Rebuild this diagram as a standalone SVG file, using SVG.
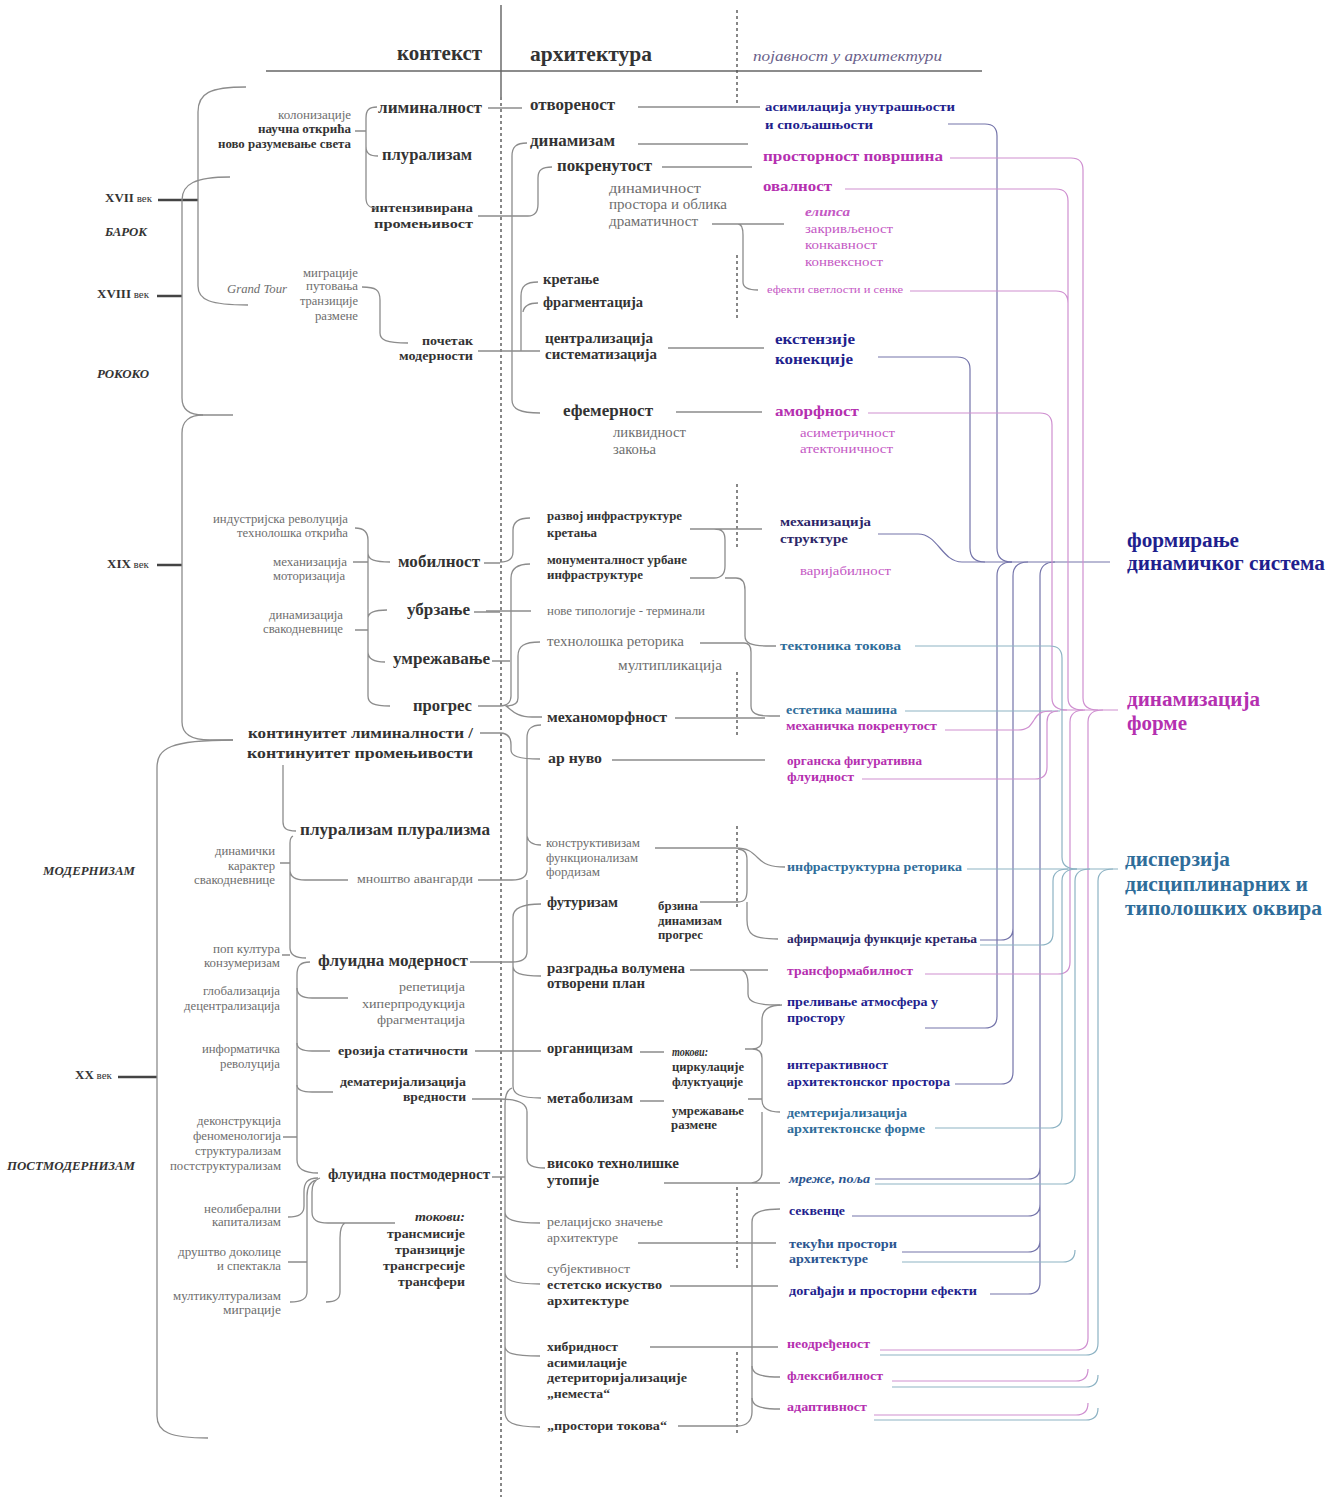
<svg xmlns="http://www.w3.org/2000/svg" width="1341" height="1497" viewBox="0 0 1341 1497">
<style>
.t{font-family:"Liberation Serif","DejaVu Serif",serif}
.b{font-weight:bold}
.i{font-style:italic}
.dk{fill:#333}
.gr{fill:#6e6e6e}
.nv{fill:#1f1f8e}
.mg{fill:#b530b0}
.lm{fill:#c458c4}
.tl{fill:#2f6d9a}
.tn{fill:#2b5590}
.pn{fill:#2c2668}
.br{fill:none;stroke:#8c8c8c;stroke-width:1.3}
.rn{fill:none;stroke:#7474aa;stroke-width:1.2}
.rm{fill:none;stroke:#cf8fd0;stroke-width:1.2}
.rt{fill:none;stroke:#8db3c4;stroke-width:1.2}
.tick{stroke:#444;stroke-width:2.6}
.dash{fill:none;stroke:#555;stroke-width:1.4;stroke-dasharray:3 3}
</style>
<rect width="1341" height="1497" fill="#fff"/>

<!-- column frame -->
<g id="frame">
<path d="M501 5 V97" stroke="#555" stroke-width="1.3"/>
<path class="dash" d="M501 97 V1497"/>
<path d="M266 71 H982" stroke="#666" stroke-width="1.3"/>
<path class="dash" d="M737 10 V105 M737 255 V320 M737 484 V548 M737 672 V738 M737 826 V910 M737 1187 V1268 M737 1352 V1435"/>
<text class="t b dk" x="397" y="60" font-size="21" textLength="85" lengthAdjust="spacingAndGlyphs">контекст</text>
<text class="t b dk" x="530" y="61" font-size="21" textLength="122" lengthAdjust="spacingAndGlyphs">архитектура</text>
<text class="t i" fill="#6a5f8a" x="753" y="61" font-size="15" textLength="189" lengthAdjust="spacingAndGlyphs">појавност у архитектури</text>
</g>

<!-- time axis -->
<g id="periods">
<path class="tick" d="M158 200 H198 M157 296 H182 M157 565 H182 M118 1077 H157"/>
<text class="t dk" x="105" y="202"><tspan class="b" font-size="13">XVII</tspan><tspan font-size="11"> век</tspan></text>
<text class="t b i dk" x="105" y="236" font-size="12" textLength="42" lengthAdjust="spacingAndGlyphs">БАРОК</text>
<text class="t dk" x="97" y="298"><tspan class="b" font-size="13">XVIII</tspan><tspan font-size="11"> век</tspan></text>
<text class="t b i dk" x="97" y="378" font-size="12" textLength="52" lengthAdjust="spacingAndGlyphs">РОКОКО</text>
<text class="t dk" x="107" y="568"><tspan class="b" font-size="13">XIX</tspan><tspan font-size="11"> век</tspan></text>
<text class="t b i dk" x="43" y="875" font-size="12" textLength="92" lengthAdjust="spacingAndGlyphs">МОДЕРНИЗАМ</text>
<text class="t dk" x="75" y="1079"><tspan class="b" font-size="13">XX</tspan><tspan font-size="11"> век</tspan></text>
<text class="t b i dk" x="7" y="1170" font-size="12" textLength="128" lengthAdjust="spacingAndGlyphs">ПОСТМОДЕРНИЗАМ</text>
</g>

<!-- context column -->
<g id="ctx-17">
<text class="t gr" x="278" y="119" font-size="12" textLength="73" lengthAdjust="spacingAndGlyphs">колонизације</text>
<text class="t b dk" x="258" y="133" font-size="12" textLength="93" lengthAdjust="spacingAndGlyphs">научна открића</text>
<text class="t b dk" x="218" y="148" font-size="12" textLength="133" lengthAdjust="spacingAndGlyphs">ново разумевање света</text>
<text class="t b dk" x="378" y="113" font-size="17" textLength="104" lengthAdjust="spacingAndGlyphs">лиминалност</text>
<text class="t b dk" x="382" y="160" font-size="17" textLength="90" lengthAdjust="spacingAndGlyphs">плурализам</text>
<text class="t b dk" x="371" y="212" font-size="13.5" textLength="102" lengthAdjust="spacingAndGlyphs">интензивирана</text>
<text class="t b dk" x="374" y="228" font-size="13.5" textLength="99" lengthAdjust="spacingAndGlyphs">промењивост</text>
</g>
<g id="ctx-18">
<text class="t i gr" x="227" y="293" font-size="12" textLength="60" lengthAdjust="spacingAndGlyphs">Grand Tour</text>
<text class="t gr" x="303" y="277" font-size="12" textLength="55" lengthAdjust="spacingAndGlyphs">миграције</text>
<text class="t gr" x="306" y="290" font-size="12" textLength="52" lengthAdjust="spacingAndGlyphs">путовања</text>
<text class="t gr" x="300" y="305" font-size="12" textLength="58" lengthAdjust="spacingAndGlyphs">транзиције</text>
<text class="t gr" x="315" y="320" font-size="12" textLength="43" lengthAdjust="spacingAndGlyphs">размене</text>
<text class="t b dk" x="422" y="345" font-size="13" textLength="51" lengthAdjust="spacingAndGlyphs">почетак</text>
<text class="t b dk" x="399" y="360" font-size="13" textLength="74" lengthAdjust="spacingAndGlyphs">модерности</text>
</g>
<g id="ctx-19">
<text class="t gr" x="213" y="523" font-size="12" textLength="135" lengthAdjust="spacingAndGlyphs">индустријска револуција</text>
<text class="t gr" x="237" y="537" font-size="12" textLength="111" lengthAdjust="spacingAndGlyphs">технолошка открића</text>
<text class="t gr" x="273" y="566" font-size="12" textLength="74" lengthAdjust="spacingAndGlyphs">механизација</text>
<text class="t gr" x="273" y="580" font-size="12" textLength="72" lengthAdjust="spacingAndGlyphs">моторизација</text>
<text class="t gr" x="269" y="619" font-size="12" textLength="74" lengthAdjust="spacingAndGlyphs">динамизација</text>
<text class="t gr" x="263" y="633" font-size="12" textLength="80" lengthAdjust="spacingAndGlyphs">свакодневнице</text>
<text class="t b dk" x="398" y="567" font-size="17" textLength="82" lengthAdjust="spacingAndGlyphs">мобилност</text>
<text class="t b dk" x="407" y="615" font-size="17" textLength="63" lengthAdjust="spacingAndGlyphs">убрзање</text>
<text class="t b dk" x="393" y="664" font-size="17" textLength="97" lengthAdjust="spacingAndGlyphs">умрежавање</text>
<text class="t b dk" x="413" y="711" font-size="17" textLength="59" lengthAdjust="spacingAndGlyphs">прогрес</text>
</g>
<g id="ctx-20">
<text class="t b dk" x="248" y="738" font-size="15.5" textLength="225" lengthAdjust="spacingAndGlyphs">континуитет лиминалности /</text>
<text class="t b dk" x="247" y="758" font-size="15.5" textLength="226" lengthAdjust="spacingAndGlyphs">континуитет промењивости</text>
<text class="t b dk" x="300" y="835" font-size="17" textLength="190" lengthAdjust="spacingAndGlyphs">плурализам плурализма</text>
<text class="t gr" x="215" y="855" font-size="11.5" textLength="60" lengthAdjust="spacingAndGlyphs">динамички</text>
<text class="t gr" x="228" y="870" font-size="11.5" textLength="47" lengthAdjust="spacingAndGlyphs">карактер</text>
<text class="t gr" x="194" y="884" font-size="11.5" textLength="81" lengthAdjust="spacingAndGlyphs">свакодневнице</text>
<text class="t gr" x="357" y="883" font-size="13" textLength="116" lengthAdjust="spacingAndGlyphs">мноштво авангарди</text>
<text class="t gr" x="213" y="953" font-size="12" textLength="67" lengthAdjust="spacingAndGlyphs">поп култура</text>
<text class="t gr" x="204" y="967" font-size="12" textLength="76" lengthAdjust="spacingAndGlyphs">конзумеризам</text>
<text class="t b dk" x="318" y="966" font-size="17" textLength="150" lengthAdjust="spacingAndGlyphs">флуидна модерност</text>
<text class="t gr" x="203" y="995" font-size="12" textLength="77" lengthAdjust="spacingAndGlyphs">глобализација</text>
<text class="t gr" x="184" y="1010" font-size="12" textLength="96" lengthAdjust="spacingAndGlyphs">децентрализација</text>
<text class="t gr" x="399" y="991" font-size="13" textLength="66" lengthAdjust="spacingAndGlyphs">репетиција</text>
<text class="t gr" x="362" y="1008" font-size="13" textLength="103" lengthAdjust="spacingAndGlyphs">хиперпродукција</text>
<text class="t gr" x="377" y="1024" font-size="13" textLength="88" lengthAdjust="spacingAndGlyphs">фрагментација</text>
<text class="t gr" x="202" y="1053" font-size="12" textLength="78" lengthAdjust="spacingAndGlyphs">информатичка</text>
<text class="t gr" x="220" y="1068" font-size="12" textLength="60" lengthAdjust="spacingAndGlyphs">револуција</text>
<text class="t b dk" x="338" y="1055" font-size="13" textLength="130" lengthAdjust="spacingAndGlyphs">ерозија статичности</text>
<text class="t b dk" x="340" y="1086" font-size="13" textLength="126" lengthAdjust="spacingAndGlyphs">дематеријализација</text>
<text class="t b dk" x="403" y="1101" font-size="13" textLength="63" lengthAdjust="spacingAndGlyphs">вредности</text>
<text class="t gr" x="197" y="1125" font-size="12" textLength="84" lengthAdjust="spacingAndGlyphs">деконструкција</text>
<text class="t gr" x="193" y="1140" font-size="12" textLength="88" lengthAdjust="spacingAndGlyphs">феноменологија</text>
<text class="t gr" x="195" y="1155" font-size="12" textLength="86" lengthAdjust="spacingAndGlyphs">структурализам</text>
<text class="t gr" x="170" y="1170" font-size="12" textLength="111" lengthAdjust="spacingAndGlyphs">постструктурализам</text>
<text class="t b dk" x="328" y="1179" font-size="15" textLength="162" lengthAdjust="spacingAndGlyphs">флуидна постмодерност</text>
<text class="t gr" x="204" y="1213" font-size="12" textLength="77" lengthAdjust="spacingAndGlyphs">неолиберални</text>
<text class="t gr" x="212" y="1226" font-size="12" textLength="69" lengthAdjust="spacingAndGlyphs">капитализам</text>
<text class="t gr" x="178" y="1256" font-size="12" textLength="103" lengthAdjust="spacingAndGlyphs">друштво доколице</text>
<text class="t gr" x="217" y="1270" font-size="12" textLength="64" lengthAdjust="spacingAndGlyphs">и спектакла</text>
<text class="t gr" x="173" y="1300" font-size="12" textLength="108" lengthAdjust="spacingAndGlyphs">мултикултурализам</text>
<text class="t gr" x="223" y="1314" font-size="12" textLength="58" lengthAdjust="spacingAndGlyphs">миграције</text>
<text class="t b i dk" x="415" y="1221" font-size="12.5" textLength="50" lengthAdjust="spacingAndGlyphs">токови:</text>
<text class="t b dk" x="387" y="1238" font-size="13" textLength="78" lengthAdjust="spacingAndGlyphs">трансмисије</text>
<text class="t b dk" x="395" y="1254" font-size="13" textLength="70" lengthAdjust="spacingAndGlyphs">транзиције</text>
<text class="t b dk" x="383" y="1270" font-size="13" textLength="82" lengthAdjust="spacingAndGlyphs">трансгресије</text>
<text class="t b dk" x="398" y="1286" font-size="13" textLength="67" lengthAdjust="spacingAndGlyphs">трансфери</text>
</g>

<!-- architecture column -->
<g id="arch-17">
<text class="t b dk" x="530" y="110" font-size="16" textLength="85" lengthAdjust="spacingAndGlyphs">отвореност</text>
<text class="t b dk" x="530" y="146" font-size="16" textLength="85" lengthAdjust="spacingAndGlyphs">динамизам</text>
<text class="t b dk" x="557" y="171" font-size="16" textLength="95" lengthAdjust="spacingAndGlyphs">покренутост</text>
<text class="t gr" x="609" y="193" font-size="14" textLength="92" lengthAdjust="spacingAndGlyphs">динамичност</text>
<text class="t gr" x="609" y="209" font-size="14" textLength="118" lengthAdjust="spacingAndGlyphs">простора и облика</text>
<text class="t gr" x="609" y="226" font-size="14" textLength="89" lengthAdjust="spacingAndGlyphs">драматичност</text>
<text class="t b dk" x="543" y="284" font-size="14.5" textLength="56" lengthAdjust="spacingAndGlyphs">кретање</text>
<text class="t b dk" x="543" y="307" font-size="14.5" textLength="100" lengthAdjust="spacingAndGlyphs">фрагментација</text>
<text class="t b dk" x="545" y="343" font-size="14" textLength="108" lengthAdjust="spacingAndGlyphs">централизација</text>
<text class="t b dk" x="545" y="359" font-size="14" textLength="112" lengthAdjust="spacingAndGlyphs">систематизација</text>
<text class="t b dk" x="563" y="416" font-size="16" textLength="90" lengthAdjust="spacingAndGlyphs">ефемерност</text>
<text class="t gr" x="613" y="437" font-size="14" textLength="73" lengthAdjust="spacingAndGlyphs">ликвидност</text>
<text class="t gr" x="613" y="454" font-size="14" textLength="43" lengthAdjust="spacingAndGlyphs">закоња</text>
</g>
<g id="arch-19">
<text class="t b dk" x="547" y="520" font-size="12" textLength="135" lengthAdjust="spacingAndGlyphs">развој инфраструктуре</text>
<text class="t b dk" x="547" y="537" font-size="12" textLength="50" lengthAdjust="spacingAndGlyphs">кретања</text>
<text class="t b dk" x="547" y="564" font-size="12" textLength="140" lengthAdjust="spacingAndGlyphs">монументалност урбане</text>
<text class="t b dk" x="547" y="579" font-size="12" textLength="96" lengthAdjust="spacingAndGlyphs">инфраструктуре</text>
<text class="t gr" x="547" y="615" font-size="12" textLength="158" lengthAdjust="spacingAndGlyphs">нове типологије - терминали</text>
<text class="t gr" x="547" y="646" font-size="14" textLength="137" lengthAdjust="spacingAndGlyphs">технолошка реторика</text>
<text class="t gr" x="618" y="670" font-size="14" textLength="104" lengthAdjust="spacingAndGlyphs">мултипликација</text>
<text class="t b dk" x="547" y="722" font-size="15" textLength="120" lengthAdjust="spacingAndGlyphs">механоморфност</text>
<text class="t b dk" x="548" y="763" font-size="15" textLength="54" lengthAdjust="spacingAndGlyphs">ар нуво</text>
</g>
<g id="arch-20">
<text class="t gr" x="546" y="847" font-size="12" textLength="94" lengthAdjust="spacingAndGlyphs">конструктивизам</text>
<text class="t gr" x="546" y="862" font-size="12" textLength="92" lengthAdjust="spacingAndGlyphs">функционализам</text>
<text class="t gr" x="546" y="876" font-size="12" textLength="54" lengthAdjust="spacingAndGlyphs">фордизам</text>
<text class="t b dk" x="547" y="907" font-size="14" textLength="71" lengthAdjust="spacingAndGlyphs">футуризам</text>
<text class="t b dk" x="658" y="910" font-size="12" textLength="40" lengthAdjust="spacingAndGlyphs">брзина</text>
<text class="t b dk" x="658" y="925" font-size="12" textLength="64" lengthAdjust="spacingAndGlyphs">динамизам</text>
<text class="t b dk" x="658" y="939" font-size="12" textLength="45" lengthAdjust="spacingAndGlyphs">прогрес</text>
<text class="t b dk" x="547" y="973" font-size="14" textLength="138" lengthAdjust="spacingAndGlyphs">разградња волумена</text>
<text class="t b dk" x="547" y="988" font-size="14" textLength="98" lengthAdjust="spacingAndGlyphs">отворени план</text>
<text class="t b dk" x="547" y="1053" font-size="14" textLength="86" lengthAdjust="spacingAndGlyphs">органицизам</text>
<text class="t b i dk" x="672" y="1056" font-size="11.5" textLength="36" lengthAdjust="spacingAndGlyphs">токови:</text>
<text class="t b dk" x="672" y="1071" font-size="12" textLength="72" lengthAdjust="spacingAndGlyphs">циркулације</text>
<text class="t b dk" x="672" y="1086" font-size="12" textLength="71" lengthAdjust="spacingAndGlyphs">флуктуације</text>
<text class="t b dk" x="547" y="1103" font-size="14" textLength="86" lengthAdjust="spacingAndGlyphs">метаболизам</text>
<text class="t b dk" x="672" y="1115" font-size="12" textLength="72" lengthAdjust="spacingAndGlyphs">умрежавање</text>
<text class="t b dk" x="671" y="1129" font-size="12" textLength="46" lengthAdjust="spacingAndGlyphs">размене</text>
<text class="t b dk" x="547" y="1168" font-size="14" textLength="132" lengthAdjust="spacingAndGlyphs">високо технолишке</text>
<text class="t b dk" x="547" y="1185" font-size="14" textLength="52" lengthAdjust="spacingAndGlyphs">утопије</text>
<text class="t gr" x="547" y="1226" font-size="13.5" textLength="116" lengthAdjust="spacingAndGlyphs">релацијско значење</text>
<text class="t gr" x="547" y="1242" font-size="13.5" textLength="71" lengthAdjust="spacingAndGlyphs">архитектуре</text>
<text class="t gr" x="547" y="1273" font-size="13.5" textLength="83" lengthAdjust="spacingAndGlyphs">субјективност</text>
<text class="t b dk" x="547" y="1289" font-size="13.5" textLength="115" lengthAdjust="spacingAndGlyphs">естетско искуство</text>
<text class="t b dk" x="547" y="1305" font-size="13.5" textLength="82" lengthAdjust="spacingAndGlyphs">архитектуре</text>
<text class="t b dk" x="547" y="1351" font-size="13.5" textLength="71" lengthAdjust="spacingAndGlyphs">хибридност</text>
<text class="t b dk" x="547" y="1367" font-size="13.5" textLength="80" lengthAdjust="spacingAndGlyphs">асимилације</text>
<text class="t b dk" x="547" y="1382" font-size="13.5" textLength="140" lengthAdjust="spacingAndGlyphs">детериторијализације</text>
<text class="t b dk" x="547" y="1398" font-size="13.5" textLength="63" lengthAdjust="spacingAndGlyphs">„неместа“</text>
<text class="t b dk" x="547" y="1430" font-size="13.5" textLength="120" lengthAdjust="spacingAndGlyphs">„простори токова“</text>
</g>

<!-- manifestation column -->
<g id="form-17">
<text class="t b nv" x="765" y="111" font-size="13.5" textLength="190" lengthAdjust="spacingAndGlyphs">асимилација унутрашњости</text>
<text class="t b nv" x="765" y="129" font-size="13.5" textLength="108" lengthAdjust="spacingAndGlyphs">и спољашњости</text>
<text class="t b mg" x="763" y="161" font-size="15.5" textLength="180" lengthAdjust="spacingAndGlyphs">просторност површина</text>
<text class="t b mg" x="763" y="191" font-size="15.5" textLength="69" lengthAdjust="spacingAndGlyphs">овалност</text>
<text class="t b i lm" x="805" y="216" font-size="12.5" textLength="45" lengthAdjust="spacingAndGlyphs">елипса</text>
<text class="t lm" x="805" y="233" font-size="12.5" textLength="88" lengthAdjust="spacingAndGlyphs">закривљеност</text>
<text class="t lm" x="805" y="249" font-size="12.5" textLength="72" lengthAdjust="spacingAndGlyphs">конкавност</text>
<text class="t lm" x="805" y="266" font-size="12.5" textLength="78" lengthAdjust="spacingAndGlyphs">конвексност</text>
<text class="t lm" x="767" y="293" font-size="11" textLength="136" lengthAdjust="spacingAndGlyphs">ефекти светлости и сенке</text>
<text class="t b nv" x="775" y="344" font-size="15.5" textLength="80" lengthAdjust="spacingAndGlyphs">екстензије</text>
<text class="t b nv" x="775" y="364" font-size="15.5" textLength="78" lengthAdjust="spacingAndGlyphs">конекције</text>
<text class="t b mg" x="775" y="416" font-size="15.5" textLength="84" lengthAdjust="spacingAndGlyphs">аморфност</text>
<text class="t lm" x="800" y="437" font-size="12.5" textLength="95" lengthAdjust="spacingAndGlyphs">асиметричност</text>
<text class="t lm" x="800" y="453" font-size="12.5" textLength="93" lengthAdjust="spacingAndGlyphs">атектоничност</text>
</g>
<g id="form-19">
<text class="t b pn" x="780" y="526" font-size="13.5" textLength="91" lengthAdjust="spacingAndGlyphs">механизација</text>
<text class="t b pn" x="780" y="543" font-size="13.5" textLength="68" lengthAdjust="spacingAndGlyphs">структуре</text>
<text class="t lm" x="800" y="575" font-size="12.5" textLength="91" lengthAdjust="spacingAndGlyphs">варијабилност</text>
<text class="t b tl" x="780" y="650" font-size="13" textLength="121" lengthAdjust="spacingAndGlyphs">тектоника токова</text>
<text class="t b tl" x="786" y="714" font-size="12" textLength="111" lengthAdjust="spacingAndGlyphs">естетика машина</text>
<text class="t b mg" x="786" y="730" font-size="12" textLength="151" lengthAdjust="spacingAndGlyphs">механичка покренутост</text>
<text class="t b mg" x="787" y="765" font-size="12.5" textLength="135" lengthAdjust="spacingAndGlyphs">органска фигуративна</text>
<text class="t b mg" x="787" y="781" font-size="12.5" textLength="67" lengthAdjust="spacingAndGlyphs">флуидност</text>
</g>
<g id="form-20">
<text class="t b tl" x="787" y="871" font-size="12.5" textLength="175" lengthAdjust="spacingAndGlyphs">инфраструктурна реторика</text>
<text class="t b pn" x="787" y="943" font-size="12.5" textLength="190" lengthAdjust="spacingAndGlyphs">афирмација функције кретања</text>
<text class="t b mg" x="787" y="975" font-size="12.5" textLength="126" lengthAdjust="spacingAndGlyphs">трансформабилност</text>
<text class="t b nv" x="787" y="1006" font-size="12.5" textLength="151" lengthAdjust="spacingAndGlyphs">преливање атмосфера у</text>
<text class="t b nv" x="787" y="1022" font-size="12.5" textLength="58" lengthAdjust="spacingAndGlyphs">простору</text>
<text class="t b nv" x="787" y="1069" font-size="12.5" textLength="101" lengthAdjust="spacingAndGlyphs">интерактивност</text>
<text class="t b nv" x="787" y="1086" font-size="12.5" textLength="163" lengthAdjust="spacingAndGlyphs">архитектонског простора</text>
<text class="t b tl" x="787" y="1117" font-size="12.5" textLength="120" lengthAdjust="spacingAndGlyphs">демтеријализација</text>
<text class="t b tl" x="787" y="1133" font-size="12.5" textLength="138" lengthAdjust="spacingAndGlyphs">архитектонске форме</text>
<text class="t b i tn" x="789" y="1183" font-size="12.5" textLength="81" lengthAdjust="spacingAndGlyphs">мреже, поља</text>
<text class="t b nv" x="789" y="1215" font-size="12.5" textLength="56" lengthAdjust="spacingAndGlyphs">секвенце</text>
<text class="t b tn" x="789" y="1248" font-size="12.5" textLength="108" lengthAdjust="spacingAndGlyphs">текући простори</text>
<text class="t b tn" x="789" y="1263" font-size="12.5" textLength="79" lengthAdjust="spacingAndGlyphs">архитектуре</text>
<text class="t b nv" x="789" y="1295" font-size="12.5" textLength="188" lengthAdjust="spacingAndGlyphs">догађаји и просторни ефекти</text>
<text class="t b mg" x="787" y="1348" font-size="12.5" textLength="83" lengthAdjust="spacingAndGlyphs">неодређеност</text>
<text class="t b mg" x="787" y="1380" font-size="12.5" textLength="96" lengthAdjust="spacingAndGlyphs">флексибилност</text>
<text class="t b mg" x="787" y="1411" font-size="12.5" textLength="80" lengthAdjust="spacingAndGlyphs">адаптивност</text>
</g>

<!-- outcomes -->
<g id="out-system">
<text class="t b nv" x="1127" y="547" font-size="20" textLength="112" lengthAdjust="spacingAndGlyphs">формирање</text>
<text class="t b nv" x="1127" y="570" font-size="20" textLength="198" lengthAdjust="spacingAndGlyphs">динамичког система</text>
</g>
<g id="out-form">
<text class="t b mg" x="1127" y="706" font-size="20" textLength="133" lengthAdjust="spacingAndGlyphs">динамизација</text>
<text class="t b mg" x="1127" y="730" font-size="20" textLength="60" lengthAdjust="spacingAndGlyphs">форме</text>
</g>
<g id="out-dispersion">
<text class="t b tl" x="1125" y="866" font-size="20" textLength="105" lengthAdjust="spacingAndGlyphs">дисперзија</text>
<text class="t b tl" x="1125" y="891" font-size="20" textLength="183" lengthAdjust="spacingAndGlyphs">дисциплинарних и</text>
<text class="t b tl" x="1125" y="915" font-size="20" textLength="197" lengthAdjust="spacingAndGlyphs">типолошких оквира</text>
</g>

<!-- connectors -->
<g id="connectors">
<!-- period braces -->
<path class="br" d="M246 87 C210 87 198 93 198 112 V286 C198 300 210 305 248 305"/>
<path class="br" d="M230 177 C195 177 182 184 182 200 V398 C182 410 190 415 203 415 H233"/>
<path class="br" d="M203 415 C190 415 182 421 182 433 V722 C182 735 192 740 210 740 H233"/>
<path class="br" d="M233 740 C170 740 157 748 157 768 V1416 C157 1432 170 1438 208 1438"/>

<!-- context brackets -->
<path class="br" d="M377 107 C369 107 366 110 366 118 V198 C366 205 369 208 377 208 M355 131 H366 M366 146 C366 154 370 156 378 156"/>
<path class="br" d="M488 108 H522"/>
<path class="br" d="M478 216 H528 C535 216 538 212 538 204 V178 C538 170 542 167 552 167"/>
<path class="br" d="M362 287 C376 287 380 290 380 300 V333 C380 340 386 343 408 343 M478 351 H540"/>
<path class="br" d="M538 282 C526 282 521 286 521 296 V351 M538 303 C528 303 524 306 523 312"/>
<path class="br" d="M527 143 C516 143 512 147 512 156 V400 C512 409 520 413 540 413"/>
<path class="br" d="M638 107 H760 M638 144 H748 M662 167 H752 M668 348 H764 M676 412 H762"/>
<path class="br" d="M712 224 H784 M738 224 C741 224 743 228 743 235 V282 C743 288 748 290 758 290"/>

<path class="br" d="M355 528 C364 528 368 532 368 540 V696 C368 703 373 706 390 706 M353 562 H368 M368 553 C368 560 375 562 390 562 M355 630 H368 M368 618 C368 612 375 610 387 610 M368 652 C368 659 374 662 385 662"/>
<path class="br" d="M484 563 H500 M474 612 H500 M492 661 H510 M478 706 H500"/>
<path class="br" d="M530 518 C518 518 513 522 513 530 V552 C513 559 508 562 500 562"/>
<path class="br" d="M530 564 C518 564 511 568 511 578 V696 C511 702 507 706 500 706"/>
<path class="br" d="M486 611 H531"/>
<path class="br" d="M540 642 C524 642 518 646 518 656 V698 C518 704 512 706 506 706 C512 710 516 717 532 717 H542"/>
<path class="br" d="M480 733 H500 C508 733 511 738 511 745 V750 C511 756 518 759 540 759"/>
<path class="br" d="M690 529 H762 M690 578 H714 C722 578 725 574 725 566 V540 C725 532 722 529 714 529"/>
<path class="br" d="M725 578 H736 C742 578 745 582 745 590 V636 C745 643 750 646 770 646 H776"/>
<path class="br" d="M700 643 H744 C749 643 751 646 751 652 V706 C751 713 756 716 770 716 H780 M675 718 H765 M612 760 H765"/>

<path class="br" d="M283 765 V822 C283 828 286 831 296 831"/>
<path class="br" d="M293 836 C291 837 290 839 290 843 V948 C290 955 295 958 306 958 M280 863 H290 M290 870 C290 877 295 880 305 880 H348 M282 955 H290"/>
<path class="br" d="M310 962 C300 962 297 966 297 975 V1160 C297 1168 302 1173 318 1173"/>
<path class="br" d="M297 988 C297 995 302 998 312 998 H348 M297 1043 C297 1049 302 1051 312 1051 H330 M297 1085 C297 1090 302 1092 312 1092 H333 M283 1137 H297"/>
<path class="br" d="M318 1178 C307 1178 304 1183 304 1192 V1206 C304 1214 299 1217 288 1217"/>
<path class="br" d="M316 1180 C309 1182 307 1188 307 1196 V1292 C307 1299 302 1302 290 1302 M288 1262 H307"/>
<path class="br" d="M320 1178 C314 1180 312 1185 312 1192 V1212 C312 1220 317 1223 328 1223 H395 M345 1223 C341 1225 340 1230 340 1238 V1292 C340 1299 336 1302 326 1302"/>

<path class="br" d="M541 725 C531 725 527 729 527 738 V870 C527 876 522 880 512 880 H478 M527 836 C528 842 533 845 541 845"/>
<path class="br" d="M527 880 V952 C527 958 522 962 512 962 H470"/>
<path class="br" d="M541 904 C522 904 513 908 513 917 V1086 C513 1094 520 1098 541 1098 M513 966 C513 973 520 976 541 976 M475 1051 H541"/>
<path class="br" d="M472 1099 H500 C520 1099 527 1104 527 1112 V1158 C527 1165 532 1168 545 1168"/>
<path class="br" d="M512 1088 C507 1090 505 1095 505 1104 V1412 C505 1422 512 1427 540 1427 M505 1212 C505 1219 512 1223 540 1223 M505 1272 C505 1280 512 1284 540 1284 M505 1346 C505 1353 512 1356 540 1356 M492 1177 H505"/>

<path class="br" d="M655 848 H735 C748 848 752 852 758 858 C764 864 770 867 785 867"/>
<path class="br" d="M700 902 H738 C745 902 747 898 747 890 V860 C747 853 745 850 738 849 M747 902 C747 908 747 912 747 920 C747 934 752 939 778 939"/>
<path class="br" d="M690 970 H768 M742 970 C746 972 748 976 748 984 V994 C748 1002 756 1005 780 1005"/>
<path class="br" d="M782 1005 C768 1005 762 1010 762 1020 V1040 C762 1046 758 1049 752 1049 C758 1049 762 1052 762 1058 V1100 C762 1108 768 1112 780 1112 M745 1049 H752"/>
<path class="br" d="M640 1052 H664 M640 1101 H664 M748 1099 H762 M762 1112 V1172 C762 1179 758 1183 748 1183 M664 1183 H780"/>
<path class="br" d="M780 1209 C760 1209 752 1213 752 1222 V1412 C752 1421 746 1426 738 1426 M678 1426 H738"/>
<path class="br" d="M638 1243 H776 M670 1286 H778 M650 1347 H778 M752 1366 C752 1373 758 1377 780 1377 M752 1398 C752 1405 758 1409 780 1409"/>

<!-- routes to "формирање динамичког система" -->
<path class="rn" d="M948 124 H985 C993 124 997 128 997 136 V548 C997 557 1002 562 1012 562"/>
<path class="rn" d="M878 357 H957 C966 357 970 361 970 369 V548 C970 557 975 562 985 562"/>
<path class="rn" d="M878 534 H918 C938 534 942 562 962 562 H1110"/>
<path class="rn" d="M925 1028 H985 C993 1028 997 1024 997 1016 V576 C997 567 1002 562 1012 562"/>
<path class="rn" d="M955 1084 H1001 C1009 1084 1013 1080 1013 1072 V576 C1013 567 1018 562 1028 562 M980 940 H1001 C1009 940 1013 936 1013 928"/>
<path class="rn" d="M1040 1282 V576 C1040 567 1045 562 1055 562 M990 1294 H1028 C1036 1294 1040 1290 1040 1282 M852 1216 H1028 C1036 1216 1040 1212 1040 1204 M875 1179 H1028 C1036 1179 1040 1175 1040 1167 M902 1252 H1028 C1036 1252 1040 1248 1040 1240"/>

<!-- routes to "динамизација форме" -->
<path class="rm" d="M950 158 H1071 C1079 158 1083 162 1083 170 V698 C1083 706 1088 710 1098 710"/>
<path class="rm" d="M845 189 H1056 C1064 189 1068 193 1068 201 V698 C1068 706 1073 710 1083 710 M910 291 H1056 C1064 291 1068 295 1068 303"/>
<path class="rm" d="M868 413 H1040 C1048 413 1052 417 1052 425 V698 C1052 706 1057 710 1067 710"/>
<path class="rt" d="M905 711 H1060"/>
<path class="rm" d="M1060 710 H1118"/>
<path class="rm" d="M945 730 H1018 C1028 730 1030 726 1034 720 C1038 713 1042 711 1052 711"/>
<path class="rm" d="M862 779 H1035 C1043 779 1047 775 1047 767 V722 C1047 715 1050 711 1058 711"/>
<path class="rm" d="M925 974 H1058 C1066 974 1070 970 1070 962 V722 C1070 714 1075 710 1085 710"/>
<path class="rm" d="M880 1350 H1076 C1084 1350 1088 1346 1088 1338 V722 C1088 714 1093 710 1103 710 M892 1381 H1076 C1084 1381 1088 1377 1088 1369 M874 1415 H1076 C1084 1415 1088 1411 1088 1403"/>

<!-- routes to "дисперзија дисциплинарних и типолошких оквира" -->
<path class="rt" d="M967 869 H1118"/>
<path class="rt" d="M915 646 H1050 C1058 646 1062 650 1062 658 V857 C1062 865 1067 869 1077 869"/>
<path class="rt" d="M980 945 H1041 C1049 945 1053 941 1053 933 V881 C1053 873 1058 869 1068 869"/>
<path class="rt" d="M935 1128 H1050 C1058 1128 1062 1124 1062 1116 V881 C1062 873 1067 869 1077 869"/>
<path class="rt" d="M875 1184 H1063 C1071 1184 1075 1180 1075 1172 V881 C1075 873 1080 869 1090 869 M902 1262 H1063 C1071 1262 1075 1258 1075 1250"/>
<path class="rt" d="M880 1355 H1086 C1094 1355 1098 1351 1098 1343 V881 C1098 873 1103 869 1113 869 M892 1387 H1086 C1094 1387 1098 1383 1098 1375 M874 1420 H1086 C1094 1420 1098 1416 1098 1408"/>
</g>
</svg>
